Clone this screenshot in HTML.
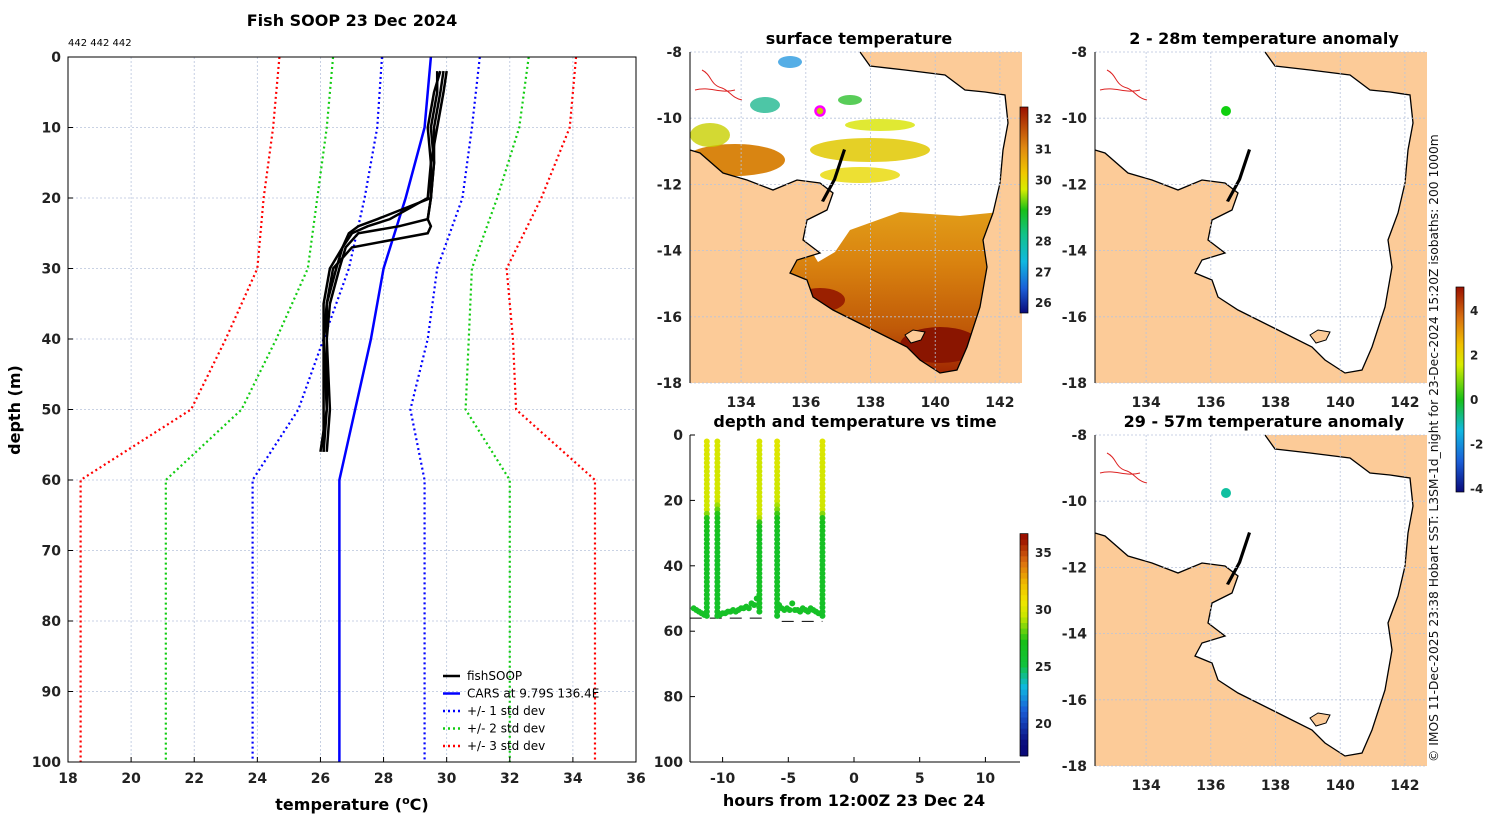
<!DOCTYPE html>
<html><head><meta charset="utf-8">
<style>
body{margin:0;background:#fff;}
svg{display:block;font-family:"DejaVu Sans","Liberation Sans",sans-serif;}
.tk{font-size:14px;font-weight:bold;fill:#222;}
.ttl{font-size:16px;font-weight:bold;fill:#000;}
</style></head>
<body>
<svg id="fig" width="1500" height="820" viewBox="0 0 1500 820" xmlns="http://www.w3.org/2000/svg">
<defs>
<linearGradient id="sstGrad" x1="0" y1="0" x2="0" y2="1">
<stop offset="0" stop-color="#e3a21a"/><stop offset="0.35" stop-color="#d9820f"/><stop offset="0.7" stop-color="#c05a08"/><stop offset="1" stop-color="#9a1c00"/>
</linearGradient>
<linearGradient id="cbSst" x1="0" y1="1" x2="0" y2="0">
<stop offset="0" stop-color="#0a0a7a"/><stop offset="0.12" stop-color="#1b5fd8"/><stop offset="0.25" stop-color="#10b8e0"/><stop offset="0.38" stop-color="#12c28a"/><stop offset="0.5" stop-color="#18c018"/><stop offset="0.6" stop-color="#d8ec00"/><stop offset="0.68" stop-color="#f0c800"/><stop offset="0.8" stop-color="#e08a10"/><stop offset="1" stop-color="#9a1000"/>
</linearGradient>
<linearGradient id="cbAnom" x1="0" y1="1" x2="0" y2="0">
<stop offset="0" stop-color="#0a0a7a"/><stop offset="0.15" stop-color="#1b5fd8"/><stop offset="0.3" stop-color="#10b8e0"/><stop offset="0.45" stop-color="#18c018"/><stop offset="0.62" stop-color="#d8ec00"/><stop offset="0.72" stop-color="#f0c000"/><stop offset="0.85" stop-color="#d87010"/><stop offset="1" stop-color="#9a1000"/>
</linearGradient>
</defs>
</svg>
<script>
// ---------- profile data ----------
const carsDepth=[0,10,20,30,40,50,60,100];
const carsMean=[29.5,29.3,28.7,28.0,27.6,27.1,26.6,26.6];
const sd1Lo=[27.95,27.8,27.4,26.9,26.1,25.3,23.85,23.85];
const sd1Hi=[31.05,30.8,30.5,29.7,29.4,28.85,29.3,29.3];
const sd2Lo=[26.4,26.2,25.9,25.6,24.6,23.5,21.1,21.1];
const sd2Hi=[32.6,32.3,31.6,30.8,30.7,30.6,32.0,32.0];
const sd3Lo=[24.7,24.5,24.2,24.0,23.0,21.9,18.4,18.4];
const sd3Hi=[34.1,33.9,33.0,31.9,32.1,32.2,34.7,34.7];
const fishDepth=[2,5,10,15,20,23,24,25,27,30,35,40,50,56];
const fish1=[29.9,29.8,29.6,29.6,29.5,29.4,28.5,27.2,26.8,26.6,26.3,26.2,26.2,26.1];
const fish2=[29.7,29.7,29.5,29.6,29.5,27.8,27.2,26.9,26.7,26.5,26.2,26.1,26.1,26.1];
const fish3=[29.8,29.6,29.4,29.5,29.5,29.4,29.5,29.4,27.0,26.4,26.2,26.2,26.3,26.2];
const fish4=[30.0,29.9,29.7,29.5,29.4,28.2,27.5,27.0,26.7,26.3,26.1,26.1,26.2,26.0];
const tempTicks=[18,20,22,24,26,28,30,32,34,36];
const depthTicks=[0,10,20,30,40,50,60,70,80,90,100];
// ---------- time plot data ----------
const castTimes=[-11.2,-10.4,-7.2,-5.85,-2.4];
const castBottom=[56,56,54,56,56];
const bottomTimes=[-12.2,-12.0,-11.8,-11.6,-11.4,-10.2,-10.0,-9.8,-9.6,-9.4,-9.2,-9.0,-8.8,-8.6,-8.4,-8.2,-8.0,-7.8,-7.6,-7.4,-5.7,-5.5,-5.3,-5.1,-4.9,-4.7,-4.5,-4.3,-4.1,-3.9,-3.7,-3.5,-3.3,-3.1,-2.9,-2.7];
const bottomDepths=[53,53.5,54,54.5,55,55,54.5,54.5,54,54,53.5,54,53.5,53,53,52.5,53,51.5,52,50,52,53,53.5,53,53.5,51.5,53.5,53.5,54,53,53.5,54,53,53.5,54,54.5];
const timeTicks=[-10,-5,0,5,10];
const tdTicks=[0,20,40,60,80,100];
// ---------- map ticks ----------
const lonTicks=[134,136,138,140,142];
const latTicks=[-8,-10,-12,-14,-16,-18];
const sstTicks=[26,27,28,29,30,31,32];
const cbTimeTicks=[20,25,30,35];
const anomTicks=[-4,-2,0,2,4];

const NS='http://www.w3.org/2000/svg';
const svg=document.getElementById('fig');
function mk(tag,attrs,parent){const e=document.createElementNS(NS,tag);for(const k in attrs)e.setAttribute(k,attrs[k]);(parent||svg).appendChild(e);return e;}
function txt(s,x,y,cls,anchor,parent){const t=mk('text',{x:x,y:y,class:cls||'tk','text-anchor':anchor||'middle'},parent);t.textContent=s;return t;}

// ======== profile plot ========
const PX0=68,PX1=636,PY0=57,PY1=762;
const tx=v=>PX0+(v-18)/18*(PX1-PX0);
const dy=v=>PY0+v/100*(PY1-PY0);
const pg=mk('g',{});


tempTicks.forEach(t=>{const l=mk('line',{x1:tx(t),x2:tx(t),y1:PY0,y2:PY1,stroke:'#b8c4dc','stroke-width':0.8,'stroke-dasharray':'2,2'},pg);});
depthTicks.forEach(d=>{const l=mk('line',{x1:PX0,x2:PX1,y1:dy(d),y2:dy(d),stroke:'#b8c4dc','stroke-width':0.8,'stroke-dasharray':'2,2'},pg);});
function pline(temps,depths,color,w,dash,name){const pts=temps.map((t,i)=>tx(t)+','+dy(depths[i])).join(' ');const p=mk('polyline',{points:pts,fill:'none',stroke:color,'stroke-width':w},pg);if(dash)p.setAttribute('stroke-dasharray',dash);return p;}
pline(sd3Lo,carsDepth,'#f00',2.2,'2,3','sd3-low-line');
pline(sd3Hi,carsDepth,'#f00',2.2,'2,3','sd3-high-line');
pline(sd2Lo,carsDepth,'#1c1',2.2,'2,3','sd2-low-line');
pline(sd2Hi,carsDepth,'#1c1',2.2,'2,3','sd2-high-line');
pline(sd1Lo,carsDepth,'#00f',2.2,'2,3','sd1-low-line');
pline(sd1Hi,carsDepth,'#00f',2.2,'2,3','sd1-high-line');
pline(carsMean,carsDepth,'#00f',2.5,null,'cars-mean-line');
[fish1,fish2,fish3,fish4].forEach((f,i)=>pline(f,fishDepth,'#000',2.5,null,'fishsoop-profile-'+(i+1)));
const fr=mk('rect',{x:PX0,y:PY0,width:PX1-PX0,height:PY1-PY0,fill:'none',stroke:'#000','stroke-width':1},pg);

tempTicks.forEach(t=>{mk('line',{x1:tx(t),x2:tx(t),y1:PY1,y2:PY1-5,stroke:'#000'},pg);const e=txt(String(t),tx(t),783,'tk','middle',pg);});
depthTicks.forEach(d=>{mk('line',{x1:PX0,x2:PX0+5,y1:dy(d),y2:dy(d),stroke:'#000'},pg);const e=txt(String(d),61,dy(d)+5,'tk','end',pg);});
let e=txt('Fish SOOP 23 Dec 2024',352,26,'ttl','middle',pg);
e=mk('text',{x:68,y:46,'font-size':10,fill:'#000'},pg);e.textContent='442 442 442';
e=mk('text',{x:352,y:810,class:'ttl','text-anchor':'middle'},pg);e.innerHTML='temperature (<tspan dy="-6" font-size="11">o</tspan><tspan dy="6">C)</tspan>';
e=txt('depth (m)',20,410,'ttl','middle',pg);e.setAttribute('transform','rotate(-90 20 410)');
// legend
const lg=mk('g',{},pg);
[['fishSOOP','#000',null],['CARS at 9.79S 136.4E','#00f',null],['+/- 1 std dev','#00f','2,3'],['+/- 2 std dev','#1c1','2,3'],['+/- 3 std dev','#f00','2,3']].forEach((it,i)=>{const y=676+i*17.5;const l=mk('line',{x1:443,x2:460,y1:y,y2:y,stroke:it[1],'stroke-width':2.5},lg);if(it[2])l.setAttribute('stroke-dasharray',it[2]);const t=mk('text',{x:467,y:y+4,'font-size':12,fill:'#000'},lg);t.textContent=it[0];});

// ======== maps ========
const MW=332,MH=331;
const lonX=(x0,lon)=>x0+(lon-132.42)/2*64.7;
const latY=(y0,lat)=>y0+(-8-lat)/2*66.2;
const water=[[690,52],[860,52],[870,66],[905,70],[945,75],[965,90],[985,92],[1005,95],[1008,123],[1003,150],[1000,183],[993,213],[983,240],[987,267],[980,307],[967,347],[957,370],[940,373],[920,360],[907,347],[867,327],[833,310],[813,297],[807,280],[790,273],[797,260],[820,253],[803,240],[807,220],[827,210],[833,193],[820,183],[797,180],[773,190],[747,180],[723,173],[700,153],[690,150]];
let clipN=0;
function map(x0,y0,name){
  const g=mk('g',{});
  const pts=water.map(p=>(p[0]-690+x0)+','+(p[1]-52+y0)).join(' ');
  const coast=water.slice(1).map(p=>(p[0]-690+x0)+','+(p[1]-52+y0)).join(' ');
  const cid='wclip'+(clipN++);
  const cp=mk('clipPath',{id:cid},g);mk('polygon',{points:pts},cp);
  const land=mk('rect',{x:x0,y:y0,width:MW,height:MH,fill:'#fccb98'},g);
  const w=mk('polygon',{points:pts,fill:'#fff'},g);
  g._coast=coast;g._x0=x0;g._y0=y0;
  g._clip=cid;
  return g;
}
function coastline(g){
  const x0=g._x0,y0=g._y0;
  const c=mk('polyline',{points:g._coast,fill:'none',stroke:'#000','stroke-width':1.3},g);
  mk('path',{d:`M${x0+215},${y0+283} l8,-5 l12,2 l-4,8 l-10,3 z`,fill:'#fccb98',stroke:'#000'},g);
  mk('path',{d:`M${x0+153},${y0+97} l-10,30 l-12,22 l3,1 l12,-22 l10,-30 z`,fill:'#000'},g);
  mk('path',{d:`M${x0+12},${y0+18} c10,5 8,15 20,18 c8,3 10,10 20,12 M${x0+5},${y0+38} c15,-4 25,4 40,0`,fill:'none',stroke:'#d22','stroke-width':1},g);
}
function gridAndAxes(g,x0,y0,title){
  lonTicks.forEach(l=>{mk('line',{x1:lonX(x0,l),x2:lonX(x0,l),y1:y0,y2:y0+MH,stroke:'#b8c4dc','stroke-width':0.8,'stroke-dasharray':'2,2'},g);const t=txt(String(l),lonX(x0,l),y0+MH+24,'tk','middle',g);});
  latTicks.forEach(l=>{mk('line',{x1:x0,x2:x0+MW,y1:latY(y0,l),y2:latY(y0,l),stroke:'#b8c4dc','stroke-width':0.8,'stroke-dasharray':'2,2'},g);const t=txt(String(l),x0-8,latY(y0,l)+5,'tk','end',g);});
  mk('line',{x1:x0,x2:x0,y1:y0,y2:y0+MH,stroke:'#000'},g);
  const t=txt(title,x0+MW/2+3,y0-8,'ttl','middle',g);
}
// surface temperature map
const m1=map(690,52,'surface-temperature-map');
const sstG=mk('g',{'clip-path':'url(#'+m1._clip+')'},m1);

mk('rect',{x:690,y:200,width:332,height:183,fill:'url(#sstGrad)'},sstG);
mk('polygon',{points:'780,200 1000,200 1000,212 960,216 900,212 850,230 835,252 818,262',fill:'#fff'},sstG);
mk('ellipse',{cx:735,cy:160,rx:50,ry:16,fill:'#d98512'},sstG);
mk('ellipse',{cx:870,cy:150,rx:60,ry:12,fill:'#e0c800',opacity:0.85},sstG);
mk('ellipse',{cx:860,cy:175,rx:40,ry:8,fill:'#e8d800',opacity:0.8},sstG);
mk('ellipse',{cx:710,cy:135,rx:20,ry:12,fill:'#c8d000',opacity:0.8},sstG);
mk('ellipse',{cx:765,cy:105,rx:15,ry:8,fill:'#20b890',opacity:0.8},sstG);
mk('ellipse',{cx:790,cy:62,rx:12,ry:6,fill:'#2a9ae0',opacity:0.8},sstG);
mk('ellipse',{cx:850,cy:100,rx:12,ry:5,fill:'#30c030',opacity:0.8},sstG);
mk('ellipse',{cx:880,cy:125,rx:35,ry:6,fill:'#d8e400',opacity:0.8},sstG);
mk('ellipse',{cx:940,cy:345,rx:40,ry:18,fill:'#8a1500'},sstG);
mk('ellipse',{cx:820,cy:300,rx:25,ry:12,fill:'#9a2000'},sstG);
coastline(m1);
gridAndAxes(m1,690,52,'surface temperature');
e=mk('circle',{cx:820,cy:111,r:4.5,fill:'#cc0',stroke:'#f0f','stroke-width':2.5},m1);
// colorbar sst
const cb1=mk('g',{});
mk('rect',{x:1020,y:107,width:8,height:206,fill:'url(#cbSst)',stroke:'#000','stroke-width':0.7},cb1);
const sstY=v=>119+(32-v)*30.67;
sstTicks.forEach(v=>{const t=mk('text',{x:1035,y:sstY(v)+4,'font-size':12,'font-weight':'bold',fill:'#222'},cb1);t.textContent=String(v);});

// anomaly maps
const m2=map(1095,52,'anomaly-map-2-28m');
coastline(m2);
gridAndAxes(m2,1095,52,'2 - 28m temperature anomaly');
e=mk('circle',{cx:1226,cy:111,r:5,fill:'#10d010'},m2);
const m3=map(1095,435,'anomaly-map-29-57m');
coastline(m3);
gridAndAxes(m3,1095,435,'29 - 57m temperature anomaly');
e=mk('circle',{cx:1226,cy:493,r:5,fill:'#10c0a0'},m3);
const cb3=mk('g',{});
mk('rect',{x:1456,y:287,width:8,height:205,fill:'url(#cbAnom)',stroke:'#000','stroke-width':0.7},cb3);
const anY=v=>400-v*22.3;
anomTicks.forEach(v=>{const t=mk('text',{x:1470,y:anY(v)+4,'font-size':12,'font-weight':'bold',fill:'#222'},cb3);t.textContent=String(v);});
e=mk('text',{x:1438,y:762,'font-size':12.3,fill:'#111',transform:'rotate(-90 1438 762)'});
e.textContent='© IMOS 11-Dec-2025 23:38 Hobart SST: L3SM-1d_night for 23-Dec-2024 15:20Z isobaths: 200  1000m';


// ======== time plot ========
const TX0=690,TX1=1020,TY0=435,TY1=762;
const hx=v=>854+v*13.14;
const ty=v=>TY0+v/100*(TY1-TY0);
function tcol(t){const stops=[[18,[10,10,122]],[21,[27,95,216]],[23,[16,184,224]],[25,[18,194,60]],[27,[24,192,24]],[29.2,[200,230,0]],[30.5,[240,230,0]],[32,[240,190,0]],[34,[220,110,16]],[36,[154,16,0]]];
 if(t<=stops[0][0])return 'rgb('+stops[0][1]+')';for(let i=1;i<stops.length;i++){if(t<=stops[i][0]){const a=stops[i-1],b=stops[i],f=(t-a[0])/(b[0]-a[0]);return 'rgb('+a[1].map((c,k)=>Math.round(c+(b[1][k]-c)*f)).join(',')+')';}}return 'rgb('+stops[stops.length-1][1]+')';}
function interp(d,ds,vs){if(d<=ds[0])return vs[0];for(let i=1;i<ds.length;i++)if(d<=ds[i]){const f=(d-ds[i-1])/(ds[i]-ds[i-1]);return vs[i-1]+f*(vs[i]-vs[i-1]);}return vs[vs.length-1];}
const tg=mk('g',{});
e=mk('line',{x1:hx(-12.5),x2:hx(-7),y1:ty(56),y2:ty(56),stroke:'#000','stroke-dasharray':'12,8'},tg);
e=mk('line',{x1:hx(-5.5),x2:hx(-2.4),y1:ty(57),y2:ty(57),stroke:'#000','stroke-dasharray':'12,8'},tg);
bottomTimes.forEach((t,i)=>{const c=mk('circle',{cx:hx(t),cy:ty(bottomDepths[i]),r:3,fill:tcol(26.2)},tg);});
const casts=[fish1,fish2,fish3,fish4,fish1];
castTimes.forEach((ct,ci)=>{for(let d=2;d<=castBottom[ci];d+=1.3){const temp=interp(d,fishDepth,casts[ci]);const c=mk('circle',{cx:hx(ct),cy:ty(d),r:3,fill:tcol(temp)},tg);}});
mk('line',{x1:TX0,x2:TX0,y1:TY0,y2:TY1,stroke:'#000'},tg);
mk('line',{x1:TX0,x2:TX1,y1:TY1,y2:TY1,stroke:'#000'},tg);
timeTicks.forEach(t=>{mk('line',{x1:hx(t),x2:hx(t),y1:TY1,y2:TY1-5,stroke:'#000'},tg);const a=txt(String(t),hx(t),783,'tk','middle',tg);});
tdTicks.forEach(d=>{mk('line',{x1:TX0,x2:TX0+5,y1:ty(d),y2:ty(d),stroke:'#000'},tg);const a=txt(String(d),683,ty(d)+5,'tk','end',tg);});
e=txt('depth and temperature vs time',855,427,'ttl','middle',tg);
e=txt('hours from 12:00Z 23 Dec 24',854,806,'ttl','middle',tg);
const cb2=mk('g',{});
const cbY=v=>667-(v-25)*11.4;
const steps=40;for(let i=0;i<steps;i++){const v0=17.2+i*(36.7-17.2)/steps;mk('rect',{x:1020,y:cbY(v0+(36.7-17.2)/steps),width:8,height:(36.7-17.2)/steps*11.4+0.5,fill:tcol(v0)},cb2);}
mk('rect',{x:1020,y:cbY(36.7),width:8,height:(36.7-17.2)*11.4,fill:'none',stroke:'#000','stroke-width':0.7},cb2);
cbTimeTicks.forEach(v=>{const t=mk('text',{x:1035,y:cbY(v)+4,'font-size':12,'font-weight':'bold',fill:'#222'},cb2);t.textContent=String(v);});
</script>
</body></html>
